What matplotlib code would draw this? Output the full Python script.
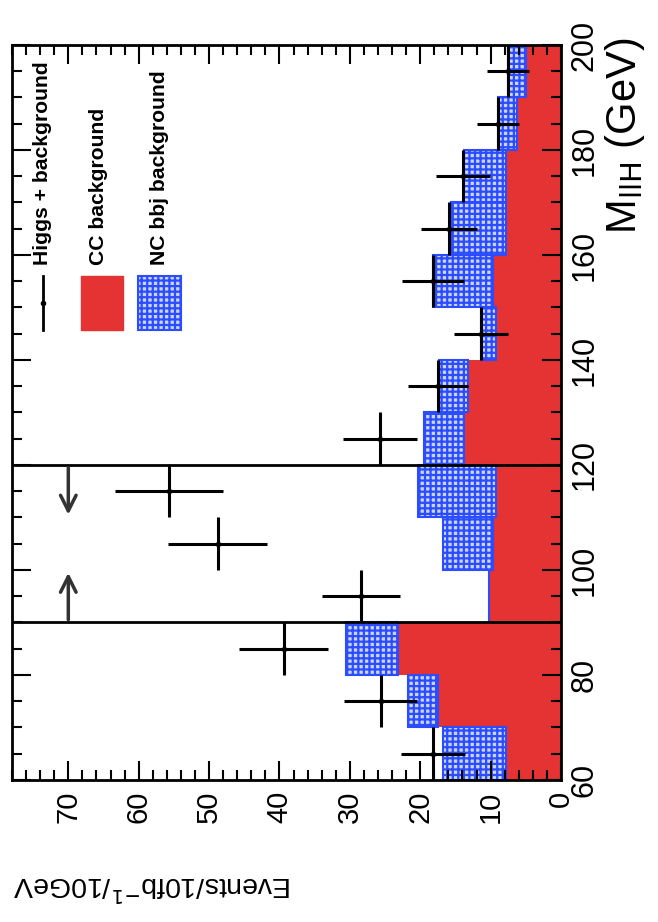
import matplotlib.pyplot as plt
import numpy as np
from matplotlib.ticker import MultipleLocator

plt.rcParams['font.family'] = ['Liberation Sans', 'DejaVu Sans']

# bins of M_llH (GeV)
bin_lo = [60, 70, 80, 90, 100, 110, 120, 130, 140, 150, 160, 170, 180, 190]
# CC background and NC bbj background (events / 10 fb^-1 / 10 GeV)
cc_bkg = [7.8, 17.5, 23.2, 10.2, 9.7, 9.2, 13.8, 13.2, 9.2, 9.7, 7.8, 7.8, 6.3, 5.0]
nc_bkg = [9.0, 4.2, 7.4, 0.0, 7.1, 11.1, 5.7, 4.1, 2.2, 8.5, 7.8, 6.0, 2.7, 2.5]
# Higgs + background
data = [18.2, 25.6, 39.4, 28.4, 48.8, 55.7, 25.7, 17.5, 11.4, 18.2, 15.9, 13.9, 9.0, 7.5]
data_err = [4.5, 5.2, 6.3, 5.5, 7.0, 7.7, 5.3, 4.3, 3.8, 4.4, 4.0, 3.8, 3.0, 3.0]

# mass window
window_lines = [90, 120]
window_arrows = [(90, 100), (120, 110)]

red = '#e53232'
blue = '#2b4cff'
nc_face = '#c9d4ff'

plt.rcParams['hatch.linewidth'] = 1.6
fig = plt.figure(figsize=(6.58, 9.22), dpi=100)
ax = fig.add_axes([12 / 658, 1 - 780 / 922, 549 / 658, 735 / 922])

centers = np.array(bin_lo) + 5
ax.barh(centers, cc_bkg, height=10, left=0, color=red, linewidth=0)
ax.barh(centers, nc_bkg, height=10, left=cc_bkg, facecolor=nc_face,
        edgecolor=blue, hatch='+++', linewidth=1.5)

ax.errorbar(data, centers, xerr=data_err, yerr=5, fmt='o', ms=3,
            color='black', elinewidth=2.2, capsize=0)

for m in window_lines:
    ax.axhline(m, color='black', lw=2)
for m0, m1 in window_arrows:
    ax.annotate('', xy=(70, m1), xytext=(70, m0),
                arrowprops=dict(arrowstyle='->', color='#333333', lw=2.5,
                                mutation_scale=28))

ax.set_xlim(78, 0)
ax.set_ylim(60, 200)

ax.xaxis.set_major_locator(MultipleLocator(10))
ax.xaxis.set_minor_locator(MultipleLocator(2))
ax.yaxis.set_major_locator(MultipleLocator(20))
ax.yaxis.set_minor_locator(MultipleLocator(5))
ax.tick_params(which='both', direction='in', top=True, right=True, width=1.5)
ax.tick_params(which='major', length=14)
ax.tick_params(which='minor', length=7)
ax.tick_params(axis='x', labelsize=21, labelrotation=90, pad=8)
ax.tick_params(axis='y', labelleft=False, labelright=True, labelsize=22,
               labelrotation=90, pad=6)
for lab in ax.get_yticklabels():
    lab.set_verticalalignment('center')
for s in ax.spines.values():
    s.set_linewidth(2)

fig.text(12 / 658, 1 - 885 / 922, 'Events/10fb$^{-1}$/10GeV', rotation=180,
         fontsize=20.5, ha='left', va='center')
fig.text(625 / 658, 1 - 38 / 922, r'M$_{\mathrm{llH}}$ (GeV)', rotation=90,
         fontsize=30, ha='center', va='top')

# legend drawn by hand
ax.plot([73.6, 73.6], [145.7, 156.0], color='black', lw=2)
ax.plot([73.6], [150.8], 'o', color='black', ms=3)
ax.add_patch(plt.Rectangle((62.3, 145.7), 5.9, 10.3, color=red))
ax.add_patch(plt.Rectangle((54.0, 145.7), 6.1, 10.3, facecolor=nc_face,
                           edgecolor=blue, hatch='+++', lw=1.5))
leg_font = dict(rotation=90, fontsize=15.2, fontweight='bold',
                ha='center', va='bottom')
ax.text(73.6, 158.0, 'Higgs + background', **leg_font)
ax.text(65.7, 158.0, 'CC background', **leg_font)
ax.text(57.1, 158.0, 'NC bbj background', **leg_font)

plt.savefig('out.png', dpi=100)
